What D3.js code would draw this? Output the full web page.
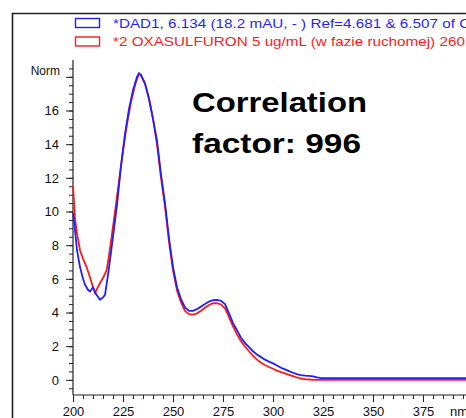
<!DOCTYPE html>
<html>
<head>
<meta charset="utf-8">
<script src="https://cdn.jsdelivr.net/npm/d3@7"></script>
<style>
  body { margin: 0; background: #fff; }
  svg { display: block; }
</style>
</head>
<body>
<figure id="spectrum" style="margin:0"></figure>
<script>
// wavelength (nm) and normalized absorbance for the sample spectrum (blue)
const blueNm = [200, 201, 202, 203.5, 205, 206, 207.5, 208.5, 210, 211.5, 213.5, 215, 216, 217.7, 220, 222, 224, 226, 228, 230, 232, 233, 234, 236, 238, 240, 242, 244, 246, 248, 250, 252, 254, 256, 258, 260, 262, 264, 266, 268, 270, 272, 274, 276, 278, 280, 282, 284, 286, 288, 290, 292, 294, 296, 298, 300, 302, 304, 306, 308, 310, 312, 314, 316, 318, 320, 322, 324, 400];
const blueVal = [9.9, 8.9, 7.7, 6.7, 6.0, 5.65, 5.35, 5.25, 5.5, 5.1, 4.76, 4.9, 5.05, 6.4, 8.5, 10.4, 12.7, 14.6, 16.1, 17.2, 18.0, 18.2, 18.1, 17.6, 16.7, 15.5, 14.2, 12.2, 10.5, 8.4, 6.7, 5.5, 4.8, 4.3, 4.1, 4.1, 4.2, 4.35, 4.5, 4.65, 4.73, 4.75, 4.7, 4.5, 3.95, 3.37, 2.95, 2.5, 2.2, 1.95, 1.7, 1.5, 1.35, 1.2, 1.08, 0.98, 0.85, 0.72, 0.62, 0.52, 0.42, 0.34, 0.28, 0.25, 0.24, 0.2, 0.14, 0.1, 0.1];

// library reference spectrum (red)
const redNm = [200, 201, 202, 203.5, 205, 206.8, 208.5, 210, 211, 212, 213.5, 215, 216.8, 218, 219.3, 221, 223, 225, 227, 229, 231, 233, 234, 236, 238, 240, 242, 244, 246, 248, 250, 252, 254, 256, 258, 260, 262, 264, 266, 268, 270, 272, 274, 276, 278, 280, 282, 284, 286, 288, 290, 292, 294, 296, 298, 300, 302, 304, 306, 308, 310, 312, 314, 316, 318, 320, 400];
const redVal = [11.5, 9.6, 8.7, 7.7, 7.2, 6.7, 6.1, 5.5, 5.15, 5.4, 5.75, 6.05, 6.5, 7.4, 8.5, 10.0, 11.8, 13.6, 15.2, 16.5, 17.5, 18.2, 18.1, 17.6, 16.7, 15.5, 14.0, 12.0, 10.3, 8.2, 6.5, 5.3, 4.6, 4.1, 3.9, 3.88, 3.95, 4.1, 4.28, 4.45, 4.55, 4.56, 4.48, 4.25, 3.72, 3.17, 2.7, 2.3, 1.98, 1.7, 1.42, 1.2, 1.02, 0.88, 0.76, 0.66, 0.55, 0.46, 0.38, 0.3, 0.22, 0.14, 0.08, 0.04, 0.02, 0.0, 0.0];

// tick labels
const xTicks = [200, 225, 250, 275, 300, 325, 350, 375];
const yTicks = [0, 2, 4, 6, 8, 10, 12, 14, 16];

const legendLabels = [
  "*DAD1, 6.134 (18.2 mAU, - ) Ref=4.681 & 6.507 of OXASULFURON.D",
  "*2 OXASULFURON 5 ug/mL (w fazie ruchomej) 260 nm"
];
const noteLines = ["Correlation", "factor: 996"];

const W = 466, H = 418;
const font = "Arial, 'Liberation Sans', sans-serif";

const svg = d3.select("figure#spectrum")
  .append("svg")
  .attr("width", W)
  .attr("height", H)
  .style("font-family", font);

// outer frame (runs off right and bottom)
svg.append("path")
  .attr("d", "M12.5," + (H + 5) + "V13.5H" + (W + 5))
  .attr("fill", "none")
  .attr("stroke", "#222")
  .attr("stroke-width", 1.6);

// scales
const x = d3.scaleLinear().domain([200, 400]).range([73, 473]);
const y = d3.scaleLinear().domain([-0.9, 19]).range([395, 60]);

// legend (the original font is a wide one, so stretch Arial sideways)
const legendColors = ["#1f1fff", "#ff1a1a"];
legendLabels.forEach((t, i) => {
  const yy = 18.5 + i * 18.5;
  svg.append("rect")
    .attr("x", 75.5).attr("y", yy)
    .attr("width", 24).attr("height", 9)
    .attr("fill", "none")
    .attr("stroke", legendColors[i])
    .attr("stroke-width", 1.4);
  svg.append("text")
    .attr("transform", "translate(113," + (yy + 9) + ") scale(1.22,1)")
    .attr("fill", legendColors[i])
    .style("font-size", "12.5px")
    .text(t);
});

// Y axis: minor ticks every 0.5, major every 2
svg.append("g")
  .attr("transform", "translate(73,0)")
  .call(d3.axisLeft(y).tickValues(d3.range(-0.5, 19, 0.5)).tickSize(4).tickFormat(""))
  .call(g => g.select(".domain").remove())
  .selectAll("line").attr("stroke", "#222");

const yAxis = svg.append("g")
  .attr("transform", "translate(73,0)")
  .call(d3.axisLeft(y).tickValues(yTicks.concat([18])).tickSize(7).tickPadding(7)
    .tickFormat(d => d === 18 ? "" : d));
yAxis.select(".domain").attr("d", "M0," + y(19) + "V" + y(-0.9)).attr("stroke", "#222").attr("stroke-width", 1.2);
yAxis.selectAll("line").attr("stroke", "#222");
yAxis.selectAll("text").style("font-size", "13px").style("font-family", font).attr("fill", "#111");

svg.append("text")
  .attr("x", 60).attr("y", 75)
  .attr("text-anchor", "end")
  .style("font-size", "12px")
  .attr("fill", "#111")
  .text("Norm");

// X axis: minor every 5 nm, major every 25 nm
svg.append("g")
  .attr("transform", "translate(0,395)")
  .call(d3.axisBottom(x).tickValues(d3.range(200, 401, 5)).tickSize(4).tickFormat(""))
  .call(g => g.select(".domain").remove())
  .selectAll("line").attr("stroke", "#222");

const xAxis = svg.append("g")
  .attr("transform", "translate(0,395)")
  .call(d3.axisBottom(x).tickValues(xTicks.concat([400])).tickSize(7).tickPadding(5)
    .tickFormat(d => d === 400 ? "" : d));
xAxis.select(".domain").attr("d", "M73,0H" + (W + 5)).attr("stroke", "#222").attr("stroke-width", 1.2);
xAxis.selectAll("line").attr("stroke", "#222");
xAxis.selectAll("text").style("font-size", "13px").style("font-family", font).attr("fill", "#111");

svg.append("text")
  .attr("x", 450).attr("y", 416)
  .style("font-size", "13px")
  .attr("fill", "#111")
  .text("nm");

// spectra
const line = d3.line()
  .x(d => x(d[0]))
  .y(d => y(d[1]));

const plot = svg.append("g");
plot.append("path")
  .datum(redNm.map((n, i) => [n, redVal[i]]))
  .attr("d", line)
  .attr("fill", "none")
  .attr("stroke", "#ff1a1a")
  .attr("stroke-width", 1.8);

plot.append("path")
  .datum(blueNm.map((n, i) => [n, blueVal[i]]))
  .attr("d", line)
  .attr("fill", "none")
  .attr("stroke", "#1f1fff")
  .attr("stroke-width", 1.8);

// annotation
const widths = [175, 169];
noteLines.forEach((t, i) => {
  svg.append("text")
    .attr("x", 192).attr("y", 112 + i * 41)
    .attr("textLength", widths[i])
    .attr("lengthAdjust", "spacingAndGlyphs")
    .style("font-size", "28px")
    .style("font-weight", "bold")
    .attr("fill", "#000")
    .text(t);
});
</script>
</body>
</html>
